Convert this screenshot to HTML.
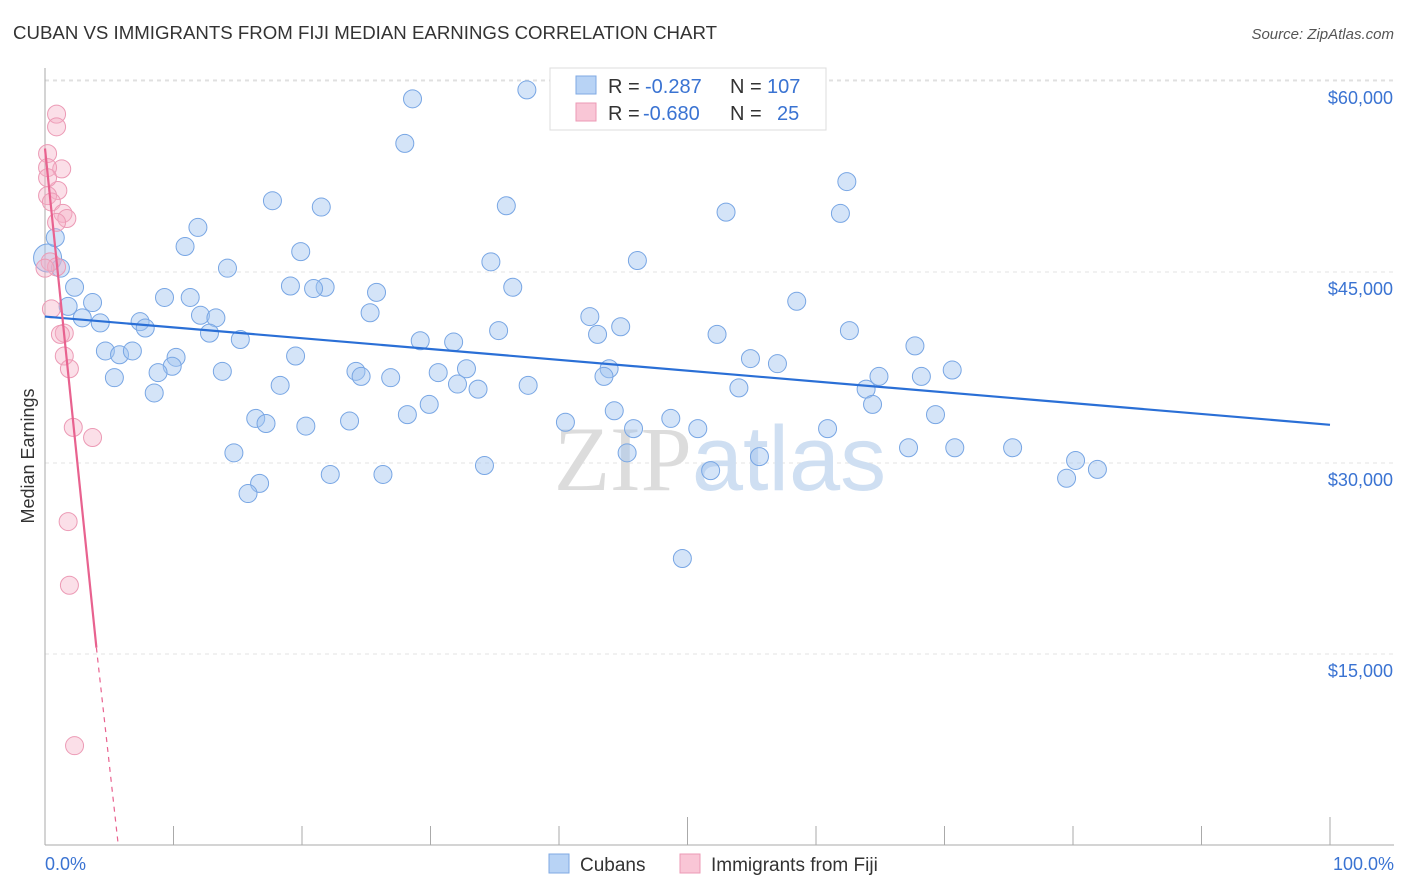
<!DOCTYPE html>
<html><head><meta charset="utf-8">
<style>
body{margin:0;background:#fff;font-family:"Liberation Sans",sans-serif;}
svg{display:block}
</style></head>
<body>
<svg id="chart" width="1406" height="892" viewBox="0 0 1406 892" xmlns="http://www.w3.org/2000/svg">
<text x="13" y="39" font-size="18" fill="#333" textLength="704" lengthAdjust="spacingAndGlyphs">CUBAN VS IMMIGRANTS FROM FIJI MEDIAN EARNINGS CORRELATION CHART</text>
<text x="1394" y="39" font-size="15" fill="#555" font-style="italic" text-anchor="end">Source: ZipAtlas.com</text>
<g id="grid"></g>
<text x="720" y="490" font-size="92" text-anchor="middle" fill="#dde3ea"><tspan font-family="Liberation Serif" fill="#dcdcdc">ZIP</tspan><tspan fill="#cfdff2">atlas</tspan></text>
<text transform="translate(34,456) rotate(-90)" font-size="18" fill="#333" text-anchor="middle">Median Earnings</text>
<g id="marks"></g>
<g>
<rect x="550" y="68" width="276" height="62" fill="#fff" stroke="#ddd"/>
<rect x="576" y="76" width="20" height="18" fill="#b8d3f5" stroke="#7fa9e3"/>
<rect x="576" y="103" width="20" height="18" fill="#f9c6d6" stroke="#ec9ab5"/>
<text x="608" y="93" font-size="20" fill="#333">R =</text>
<text x="645" y="93" font-size="20" fill="#3a73d2">-0.287</text>
<text x="730" y="93" font-size="20" fill="#333">N =</text>
<text x="767" y="93" font-size="20" fill="#3a73d2">107</text>
<text x="608" y="120" font-size="20" fill="#333">R =</text>
<text x="643" y="120" font-size="20" fill="#3a73d2">-0.680</text>
<text x="730" y="120" font-size="20" fill="#333">N =</text>
<text x="777" y="120" font-size="20" fill="#3a73d2">25</text>
</g>
<g>
<rect x="549" y="854" width="20" height="19" fill="#b8d3f5" stroke="#7fa9e3"/>
<text x="580" y="871" font-size="19" fill="#333">Cubans</text>
<rect x="680" y="854" width="20" height="19" fill="#f9c6d6" stroke="#ec9ab5"/>
<text x="711" y="871" font-size="19" fill="#333">Immigrants from Fiji</text>
</g>
<text x="45" y="870" font-size="18" fill="#3a73d2">0.0%</text>
<text x="1394" y="870" font-size="18" fill="#3a73d2" text-anchor="end">100.0%</text>
</svg>
<script>
const yTicks=[15000,30000,45000,60000];
const yTickLabels=["$15,000","$30,000","$45,000","$60,000"];
const xTicks=[0,10,20,30,40,50,60,70,80,90,100];
const cubanX=[37.5,28.6,28.0,62.4,17.7,21.5,35.9,53.0,61.9,11.9,10.9,19.9,34.7,46.1,14.2,0.2,0.8,1.2,19.1,21.8,20.9,36.4,25.8,2.3,9.3,11.3,3.7,58.5,1.8,12.1,13.3,25.3,2.9,4.3,7.4,7.8,42.4,44.8,35.3,62.6,52.3,12.8,43.0,15.2,29.2,31.8,67.7,4.7,5.8,6.8,10.2,19.5,54.9,57.0,9.9,8.8,13.8,24.2,32.8,43.9,30.6,43.5,70.6,64.9,68.2,5.4,24.6,26.9,18.3,32.1,33.7,37.6,54.0,63.9,8.5,29.9,64.4,44.3,28.2,16.4,17.2,69.3,48.7,40.5,23.7,20.3,45.8,50.8,60.9,14.7,45.3,67.2,70.8,75.3,55.6,80.2,34.2,51.8,81.9,79.5,22.2,26.3,16.7,15.8,49.6];
const cubanY=[59.3,58.6,55.1,52.1,50.6,50.1,50.2,49.7,49.6,48.5,47.0,46.6,45.8,45.9,45.3,46.1,47.7,45.3,43.9,43.8,43.7,43.8,43.4,43.8,43.0,43.0,42.6,42.7,42.3,41.6,41.4,41.8,41.4,41.0,41.1,40.6,41.5,40.7,40.4,40.4,40.1,40.2,40.1,39.7,39.6,39.5,39.2,38.8,38.5,38.8,38.3,38.4,38.2,37.8,37.6,37.1,37.2,37.2,37.4,37.4,37.1,36.8,37.3,36.8,36.8,36.7,36.8,36.7,36.1,36.2,35.8,36.1,35.9,35.8,35.5,34.6,34.6,34.1,33.8,33.5,33.1,33.8,33.5,33.2,33.3,32.9,32.7,32.7,32.7,30.8,30.8,31.2,31.2,31.2,30.5,30.2,29.8,29.4,29.5,28.8,29.1,29.1,28.4,27.6,22.5];
const fijiX=[0.9,0.9,0.2,1.3,0.2,1.0,0.2,0.5,1.4,1.7,0.9,0.4,0.9,0.5,1.5,1.2,1.5,1.9,2.2,3.7,1.8,1.9,2.3,0,0.2];
const fijiY=[57.4,56.4,54.3,53.1,53.2,51.4,51.0,50.5,49.6,49.2,48.9,45.8,45.4,42.1,40.2,40.1,38.4,37.4,32.8,32.0,25.4,20.4,7.8,45.3,52.4];
const cubanTrend=[[0,41.5],[100,33.0]];
const fijiTrend=[[0,54.7],[4.0,15.5]];
const fijiTrendExt=[[4.0,15.5],[5.7,0]];

const X0=45,X1=1330,Y0=845,PXK=191/15;
const sx=p=>X0+(X1-X0)*p/100;
const sy=v=>Y0-v*PXK;
const NS="http://www.w3.org/2000/svg";
function mk(tag,attrs,parent){const e=document.createElementNS(NS,tag);for(const k in attrs)e.setAttribute(k,attrs[k]);parent.appendChild(e);return e;}
const grid=document.getElementById('grid'),marks=document.getElementById('marks');
let g=mk('line',{x1:45,x2:1394,y1:80,y2:80,stroke:'#ddd','stroke-dasharray':'4,4'},grid);


yTicks.forEach((t,i)=>{
 const y=sy(t/1000);
 const l=mk('line',{x1:45,x2:1394,y1:y,y2:y,stroke:'#e3e3e3','stroke-dasharray':'4,4'},grid);
 
 
 const tx=mk('text',{x:1393,y:y+23,'font-size':18,fill:'#3a73d2','text-anchor':'end'},grid);
 tx.textContent=yTickLabels[i];
 
 
});
let ax=mk('line',{x1:45,x2:45,y1:68,y2:845,stroke:'#aaa'},grid);


let bx=mk('line',{x1:45,x2:1394,y1:845,y2:845,stroke:'#aaa'},grid);


xTicks.forEach(t=>{
 const x=sx(t);
 const l=mk('line',{x1:x,x2:x,y1:(t%50===0&&t>0)?817:826,y2:845,stroke:'#aaa'},grid);
 
 
});
cubanX.forEach((p,i)=>{
 const c=mk('circle',{cx:sx(p),cy:sy(cubanY[i]),r:(p<0.5?14:9),fill:'rgba(160,196,240,0.45)',stroke:'#78a6e4','stroke-width':1},marks);
 
 
});
fijiX.forEach((p,i)=>{
 const c=mk('circle',{cx:sx(p),cy:sy(fijiY[i]),r:9,fill:'rgba(246,175,198,0.4)',stroke:'#ec9ab5','stroke-width':1},marks);
 
 
});
let t1=mk('line',{x1:sx(cubanTrend[0][0]),y1:sy(cubanTrend[0][1]),x2:sx(cubanTrend[1][0]),y2:sy(cubanTrend[1][1]),stroke:'#2a6fd6','stroke-width':2.2},marks);


let t2=mk('line',{x1:sx(fijiTrend[0][0]),y1:sy(fijiTrend[0][1]),x2:sx(fijiTrend[1][0]),y2:sy(fijiTrend[1][1]),stroke:'#e8628f','stroke-width':2.2},marks);


let t3=mk('line',{x1:sx(fijiTrendExt[0][0]),y1:sy(fijiTrendExt[0][1]),x2:sx(fijiTrendExt[1][0]),y2:sy(fijiTrendExt[1][1]),stroke:'#e8628f','stroke-width':1.2,'stroke-dasharray':'5,5'},marks);


</script>
</body></html>
